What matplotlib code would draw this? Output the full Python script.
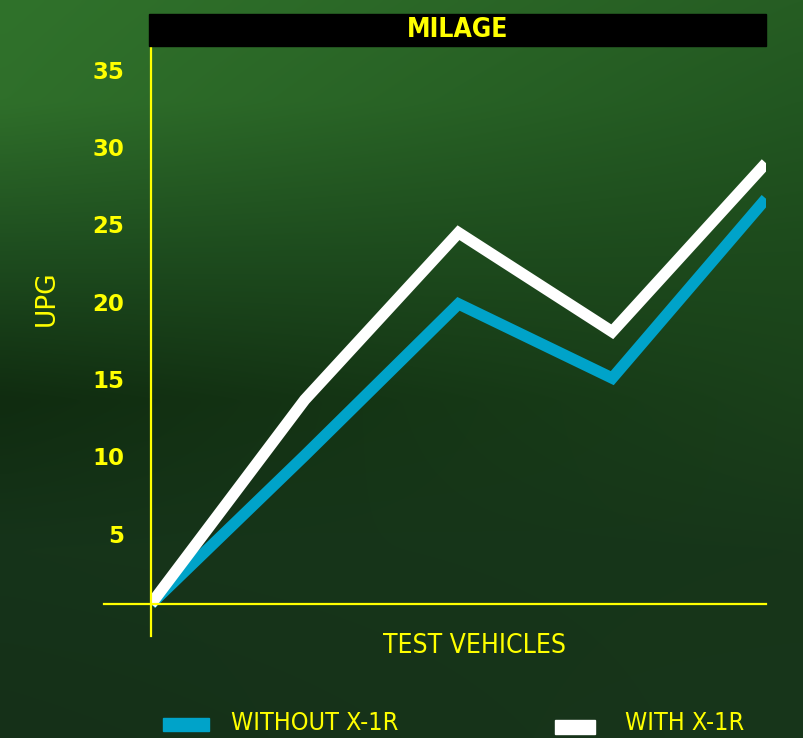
import numpy as np
import matplotlib
matplotlib.use("Agg")
import matplotlib.pyplot as plt
from matplotlib.patches import Rectangle
from matplotlib.transforms import ScaledTranslation

# data
vehicles = [0, 1, 2, 3, 4]
without_x1r = [0, 9.6, 19.4, 14.6, 26.2]
with_x1r = [0, 13.2, 24.0, 17.6, 28.5]
y_ticks = [5, 10, 15, 20, 25, 30, 35]
series_labels = ["WITHOUT X-1R", "WITH X-1R"]
series_colors = ["#00a3c9", "#ffffff"]

YELLOW = "#ffff00"
W, H = 804, 738

fig = plt.figure(figsize=(W / 100, H / 100), dpi=100)

# background gradient
ny, nx = 200, 60
ys = np.linspace(0, H, ny)
stops_y = [0, 100, 250, 400, 550, 738]
left_col = ["#30722b", "#2f6f2a", "#1e4d1f", "#102c10", "#16341a", "#153018"]
right_col = ["#265d23", "#225721", "#1d4a1c", "#1a401a", "#173619", "#18361b"]


def profile(cols):
    rgb = np.array([matplotlib.colors.to_rgb(c) for c in cols])
    return np.stack([np.interp(ys, stops_y, rgb[:, k]) for k in range(3)], axis=1)


lp, rp = profile(left_col), profile(right_col)
t = np.linspace(0, 1, nx)[None, :, None]
img = lp[:, None, :] * (1 - t) + rp[:, None, :] * t
bg = fig.add_axes([0, 0, 1, 1], zorder=-10)
bg.imshow(img, extent=[0, W, H, 0], aspect="auto", interpolation="bicubic")
bg.axis("off")

# title bar
fig.patches.append(Rectangle((149 / W, 1 - 46 / H), 617 / W, 32 / H,
                             transform=fig.transFigure, color="black", zorder=1))
fig.text(458 / W, 1 - 30 / H, "MILAGE", color=YELLOW, fontsize=19, fontweight="bold",
         fontstretch="condensed", ha="center", va="center", zorder=2)

# main axes: 0 at pixel 604, 15.47 px per unit
px_unit = 15.47
ax = fig.add_axes([151 / W, (H - 636) / H, 615 / W, 590 / H])
ax.set_facecolor("none")
ax.set_xlim(0, 4)
ax.set_ylim(-(636 - 604) / px_unit, (604 - 46) / px_unit)

ax.plot(vehicles, without_x1r, color=series_colors[0], lw=8.2,
        solid_joinstyle="miter", solid_capstyle="butt", zorder=3)
ax.plot(vehicles, with_x1r, color=series_colors[1], lw=8.2,
        solid_joinstyle="miter", solid_capstyle="butt", zorder=4)

for side in ["top", "right", "bottom"]:
    ax.spines[side].set_visible(False)
ax.spines["left"].set_color(YELLOW)
ax.spines["left"].set_linewidth(1.6)
ax.spines["left"].set_zorder(6)
ax.axhline(0, xmin=-47 / 615, xmax=1, color=YELLOW, lw=1.6, clip_on=False, zorder=6)

ax.set_xticks([])
ax.set_yticks(y_ticks)
ax.set_yticklabels([str(v) for v in y_ticks])
ax.tick_params(axis="y", length=0, pad=19, labelcolor=YELLOW, labelsize=16.5)
offset = ScaledTranslation(0, -7 / 100, fig.dpi_scale_trans)
for lab in ax.get_yticklabels():
    lab.set_fontweight("bold")
    lab.set_transform(lab.get_transform() + offset)

fig.text(47 / W, 1 - 298 / H, "UPG", color=YELLOW, fontsize=19, rotation=90,
         ha="center", va="center")
fig.text(475 / W, 1 - 646 / H, "TEST VEHICLES", color=YELLOW, fontsize=19,
         fontstretch="condensed", ha="center", va="center")

# legend along the bottom edge
leg_boxes = [(163, 718, 46, 13), (555, 720, 40, 14)]
leg_text_x = [231, 625]
for (x0, y0, w, h), col, lab, tx in zip(leg_boxes, series_colors, series_labels, leg_text_x):
    fig.patches.append(Rectangle((x0 / W, 1 - (y0 + h) / H), w / W, h / H,
                                 transform=fig.transFigure, color=col, zorder=2))
    fig.text(tx / W, 1 - 711 / H, lab, color=YELLOW, fontsize=18,
             fontstretch="condensed", ha="left", va="top")

fig.savefig("out.png", dpi=100)
